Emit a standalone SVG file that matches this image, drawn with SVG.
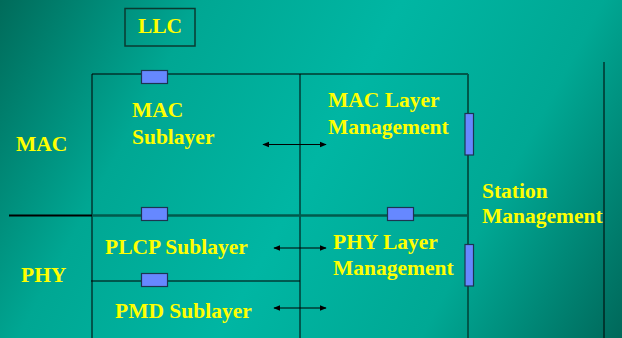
<svg xmlns="http://www.w3.org/2000/svg" width="622" height="338" viewBox="0 0 622 338">
<defs>
<linearGradient id="bg" x1="0" y1="0" x2="622" y2="338" gradientUnits="userSpaceOnUse">
<stop offset="0" stop-color="#006b5a"/>
<stop offset="0.25" stop-color="#00a793"/>
<stop offset="0.5" stop-color="#00b6a3"/>
<stop offset="0.75" stop-color="#00a894"/>
<stop offset="1" stop-color="#00685a"/>
</linearGradient>
<marker id="ah" viewBox="0 0 10 10" refX="9" refY="5" markerWidth="7" markerHeight="7" markerUnits="userSpaceOnUse" orient="auto-start-reverse">
<path d="M0,1 L10,5 L0,9 z" fill="#000"/>
</marker>
<style>
.t{font-family:"Liberation Serif","Times New Roman",serif;font-weight:bold;font-size:21.5px;fill:#ffff00}
.ln{stroke:#000;stroke-width:1;fill:none}
.dk{stroke:#00574a;stroke-width:2;fill:none}
.port{fill:#6688ff;stroke:#1c3550;stroke-width:1.2}
.ar{stroke:#000;stroke-width:1;marker-start:url(#ah);marker-end:url(#ah)}
</style>
</defs>
<rect width="622" height="338" fill="url(#bg)"/>
<g id="connectors">
<line class="ln" x1="92" y1="74" x2="300" y2="74"/>
<line class="dk" x1="300" y1="74" x2="468" y2="74"/>
<line class="ln" x1="92" y1="74" x2="92" y2="338"/>
<line class="ln" x1="300" y1="74" x2="300" y2="338"/>
<line class="dk" x1="468" y1="74" x2="468" y2="338"/>
<line class="ln" x1="604" y1="62" x2="604" y2="338"/>
<line x1="9" y1="215.5" x2="92" y2="215.5" stroke="#000" stroke-width="2"/>
<line x1="92" y1="215.5" x2="468" y2="215.5" stroke="#005a4c" stroke-width="2.5"/>
<line class="ln" x1="91" y1="281" x2="300" y2="281"/>
<line class="ar" x1="263" y1="144.5" x2="326" y2="144.5"/>
<line class="ar" x1="274" y1="248" x2="326" y2="248"/>
<line class="ar" x1="274" y1="308" x2="326" y2="308"/>
</g>
<g id="llc">
<rect x="125" y="8.5" width="70" height="37.5" fill="none" stroke="#0a3a30" stroke-width="1.5"/>
<text class="t" x="160" y="33" text-anchor="middle">LLC</text>
</g>
<g id="ports">
<rect class="port" x="141.5" y="70.5" width="26" height="13"/>
<rect class="port" x="141.5" y="207.5" width="26" height="13"/>
<rect class="port" x="387.5" y="207.5" width="26" height="13"/>
<rect class="port" x="141.5" y="273.5" width="26" height="13"/>
<rect class="port" x="465" y="113.5" width="8.5" height="41.5"/>
<rect class="port" x="465" y="244.5" width="8.5" height="41.5"/>
</g>
<g id="mac-label"><text class="t" x="16" y="151">MAC</text></g>
<g id="phy-label"><text class="t" x="21" y="282">PHY</text></g>
<g id="mac-sublayer">
<text class="t" x="132" y="117">MAC</text>
<text class="t" x="132" y="144">Sublayer</text>
</g>
<g id="mac-layer-management">
<text class="t" x="328" y="107">MAC Layer</text>
<text class="t" x="328" y="134">Management</text>
</g>
<g id="plcp-sublayer"><text class="t" x="105" y="254">PLCP Sublayer</text></g>
<g id="pmd-sublayer"><text class="t" x="115" y="318">PMD Sublayer</text></g>
<g id="phy-layer-management">
<text class="t" x="333" y="249">PHY Layer</text>
<text class="t" x="333" y="275">Management</text>
</g>
<g id="station-management">
<text class="t" x="482" y="198">Station</text>
<text class="t" x="482" y="223">Management</text>
</g>
</svg>
